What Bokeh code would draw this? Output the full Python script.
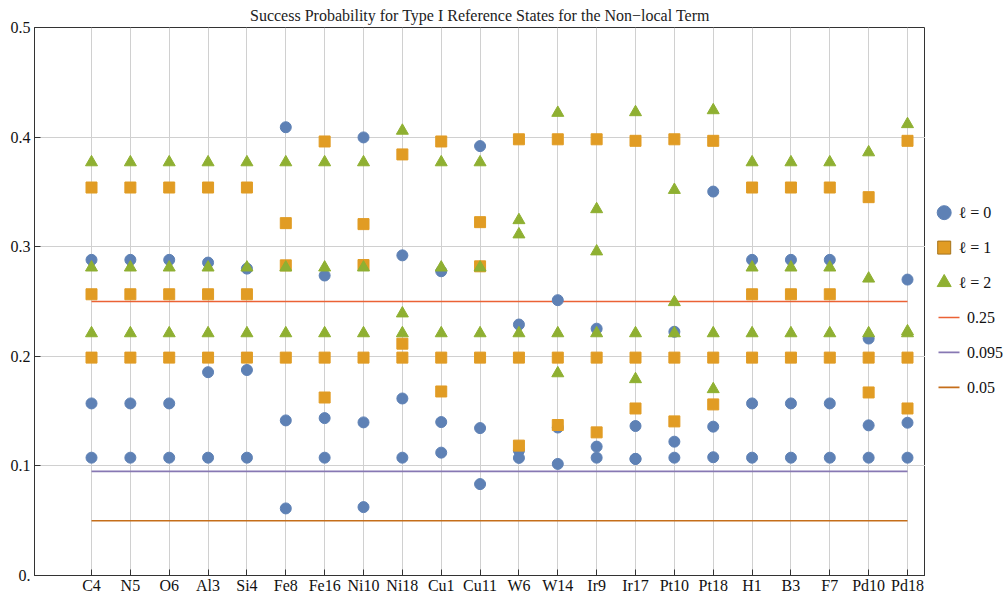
from bokeh.plotting import figure
from bokeh.models import (Range1d, FixedTicker, Title, ColumnDataSource)
from bokeh.core.properties import value
from bokeh.layouts import row
from bokeh.embed import file_html
from bokeh.resources import INLINE

# ---------------- data ----------------
categories = ["C4", "N5", "O6", "Al3", "Si4", "Fe8", "Fe16", "Ni10", "Ni18", "Cu1", "Cu11",
              "W6", "W14", "Ir9", "Ir17", "Pt10", "Pt18", "H1", "B3", "F7", "Pd10", "Pd18"]

# three success probabilities per reference state for each angular momentum channel
l0_values = [
    [0.288, 0.157, 0.1075],   # C4
    [0.288, 0.157, 0.1075],   # N5
    [0.288, 0.157, 0.1075],   # O6
    [0.2855, 0.1855, 0.1075], # Al3
    [0.280, 0.1875, 0.1075],  # Si4
    [0.409, 0.1415, 0.0612],  # Fe8
    [0.2737, 0.1436, 0.1075], # Fe16
    [0.3997, 0.1397, 0.0624], # Ni10
    [0.2921, 0.1615, 0.1075], # Ni18
    [0.2776, 0.1400, 0.1121], # Cu1
    [0.3918, 0.1345, 0.0834], # Cu11
    [0.229, 0.114, 0.1073],   # W6
    [0.2512, 0.135, 0.1018],  # W14
    [0.2252, 0.1176, 0.1075], # Ir9
    [0.1364, 0.1064, 0.1064], # Ir17
    [0.2224, 0.1221, 0.1075], # Pt10
    [0.3503, 0.1358, 0.1079], # Pt18
    [0.288, 0.157, 0.1075],   # H1
    [0.288, 0.157, 0.1075],   # B3
    [0.288, 0.157, 0.1075],   # F7
    [0.2162, 0.137, 0.1075],  # Pd10
    [0.270, 0.1394, 0.1075],  # Pd18
]
l1_values = [
    [0.354, 0.2566, 0.1988],  # C4
    [0.354, 0.2566, 0.1988],  # N5
    [0.354, 0.2566, 0.1988],  # O6
    [0.354, 0.2566, 0.1988],  # Al3
    [0.354, 0.2566, 0.1988],  # Si4
    [0.3215, 0.2830, 0.1988], # Fe8
    [0.396, 0.1988, 0.1624],  # Fe16
    [0.3206, 0.2833, 0.1988], # Ni10
    [0.3842, 0.2115, 0.1988], # Ni18
    [0.396, 0.1988, 0.1679],  # Cu1
    [0.3224, 0.2821, 0.1988], # Cu11
    [0.398, 0.1988, 0.1185],  # W6
    [0.398, 0.1988, 0.1373],  # W14
    [0.398, 0.1988, 0.1306],  # Ir9
    [0.3966, 0.1988, 0.1524], # Ir17
    [0.398, 0.1988, 0.1406],  # Pt10
    [0.3966, 0.1988, 0.1561], # Pt18
    [0.354, 0.2566, 0.1988],  # H1
    [0.354, 0.2566, 0.1988],  # B3
    [0.354, 0.2566, 0.1988],  # F7
    [0.3452, 0.1988, 0.167],  # Pd10
    [0.3966, 0.1988, 0.1524], # Pd18
]
l2_values = [
    [0.377, 0.281, 0.221],    # C4
    [0.377, 0.281, 0.221],    # N5
    [0.377, 0.281, 0.221],    # O6
    [0.377, 0.281, 0.221],    # Al3
    [0.377, 0.281, 0.221],    # Si4
    [0.377, 0.281, 0.221],    # Fe8
    [0.377, 0.281, 0.221],    # Fe16
    [0.377, 0.281, 0.221],    # Ni10
    [0.4058, 0.2391, 0.221],  # Ni18
    [0.377, 0.281, 0.221],    # Cu1
    [0.377, 0.281, 0.221],    # Cu11
    [0.3242, 0.3112, 0.221],  # W6
    [0.4221, 0.221, 0.1845],  # W14
    [0.3342, 0.2957, 0.221],  # Ir9
    [0.4227, 0.221, 0.1791],  # Ir17
    [0.3518, 0.2494, 0.221],  # Pt10
    [0.4245, 0.221, 0.170],   # Pt18
    [0.377, 0.281, 0.221],    # H1
    [0.377, 0.281, 0.221],    # B3
    [0.377, 0.281, 0.221],    # F7
    [0.3861, 0.2709, 0.221],  # Pd10
    [0.4118, 0.2228, 0.221],  # Pd18
]
thresholds = [0.25, 0.095, 0.05]
threshold_labels = ["0.25", "0.095", "0.05"]
series_labels = ["\u2113 = 0", "\u2113 = 1", "\u2113 = 2"]
y_ticks = [0, 0.1, 0.2, 0.3, 0.4, 0.5]
y_tick_labels = ["0.", "0.1", "0.2", "0.3", "0.4", "0.5"]
title_text = "Success Probability for Type I Reference States for the Non\u2212local Term"

# ---------------- style ----------------
FONT = "Liberation Serif"
series_colors = ["#5E81B5", "#E19C24", "#8FB032"]
marker_edge = ["#5E81B5", "#A5731C", "#8FB032"]
line_colors = ["#EB6235", "#8778B3", "#C56E1A"]
markers = ["circle", "square", "triangle"]
marker_sizes = [11, 11, 12]
legend_marker_sizes = [14, 13, 14]
H = 596
MAIN_W = 925
LEG_W = 78
TOP = 27           # expected top of the plot frame (title panel height)
BOTTOM_PANEL = 20  # height of the x-axis panel (measured)

xpos = list(range(1, len(categories) + 1))

p = figure(width=MAIN_W, height=H, output_backend="svg", toolbar_location=None,
           x_range=Range1d(-0.467, 22.463), y_range=Range1d(0, 0.5),
           min_border_left=34, min_border_right=0, min_border_top=0, min_border_bottom=17)

p.title = Title(text=title_text, align="center", text_font=FONT, text_font_size="16px",
                text_font_style="normal", text_color="#222222", standoff=8)
p.outline_line_color = "#333333"
p.outline_line_width = 1
p.background_fill_color = "white"
p.border_fill_color = "white"

# grids
p.xgrid.ticker = FixedTicker(ticks=xpos)
p.ygrid.ticker = FixedTicker(ticks=y_ticks)
for g in (p.xgrid, p.ygrid):
    g.grid_line_color = "#d0d0d0"
    g.grid_line_width = 1

# axes
p.xaxis.ticker = FixedTicker(ticks=xpos)
p.xaxis.major_label_overrides = {x: c for x, c in zip(xpos, categories)}
p.yaxis.ticker = FixedTicker(ticks=y_ticks)
p.yaxis.major_label_overrides = {t: s for t, s in zip(y_ticks, y_tick_labels)}
for ax in (p.xaxis[0], p.yaxis[0]):
    ax.axis_line_color = "#333333"
    ax.major_tick_line_color = "#333333"
    ax.major_tick_in = 6
    ax.major_tick_out = 0
    ax.minor_tick_line_color = None
    ax.major_label_text_font = FONT
    ax.major_label_text_font_size = "16px"
    ax.major_label_text_color = "#111111"
p.xaxis.major_label_standoff = 1
p.yaxis.major_label_standoff = 4

# threshold lines
for val, col in zip(thresholds, line_colors):
    p.line(x=[xpos[0], xpos[-1]], y=[val, val], line_color=col, line_width=1.6)

# scatter series
for vals, col, mk, sz in zip([l0_values, l1_values, l2_values], series_colors, markers, marker_sizes):
    xs, ys = [], []
    for x, trip in zip(xpos, vals):
        for v in trip:
            xs.append(x)
            ys.append(v)
    src = ColumnDataSource(dict(x=xs, y=ys))
    p.scatter("x", "y", source=src, marker=mk, size=sz, fill_color=col, line_color=col)

# ---------------- legend panel (page pixel coordinates; frame aligned with main frame) ----------------
pl = figure(width=LEG_W, height=H, output_backend="svg", toolbar_location=None,
            x_axis_type=None, y_axis_type=None,
            x_range=Range1d(MAIN_W, MAIN_W + LEG_W), y_range=Range1d(H - BOTTOM_PANEL, TOP),
            min_border_left=0, min_border_right=0, min_border_top=0, min_border_bottom=0)
pl.outline_line_color = None
pl.xgrid.visible = False
pl.ygrid.visible = False
pl.background_fill_color = "white"
pl.border_fill_color = "white"

ROW0 = 212.5
ROW_STEP = 35
n_mk = len(series_labels)
mk_rows = [ROW0 + i * ROW_STEP for i in range(n_mk)]
ln_rows = [ROW0 + (n_mk + i) * ROW_STEP for i in range(len(threshold_labels))]

for yy, col, edge, mk, sz in zip(mk_rows, series_colors, marker_edge, markers, legend_marker_sizes):
    pl.scatter(x=[943.7], y=[yy], marker=mk, size=sz, fill_color=col, line_color=edge)
pl.text(x=[958] * n_mk, y=mk_rows, text=series_labels, text_font=value(FONT),
        text_font_size="16px", text_color="#111111", text_baseline="middle", text_align="left")

for yy, col in zip(ln_rows, line_colors):
    pl.line(x=[938, 959], y=[yy, yy], line_color=col, line_width=1.6)
pl.text(x=[966.5] * len(threshold_labels), y=ln_rows, text=threshold_labels, text_font=value(FONT),
        text_font_size="16px", text_color="#111111", text_baseline="middle", text_align="left")

layout = row(p, pl)
open("out.html", "w").write(file_html(layout, INLINE))
